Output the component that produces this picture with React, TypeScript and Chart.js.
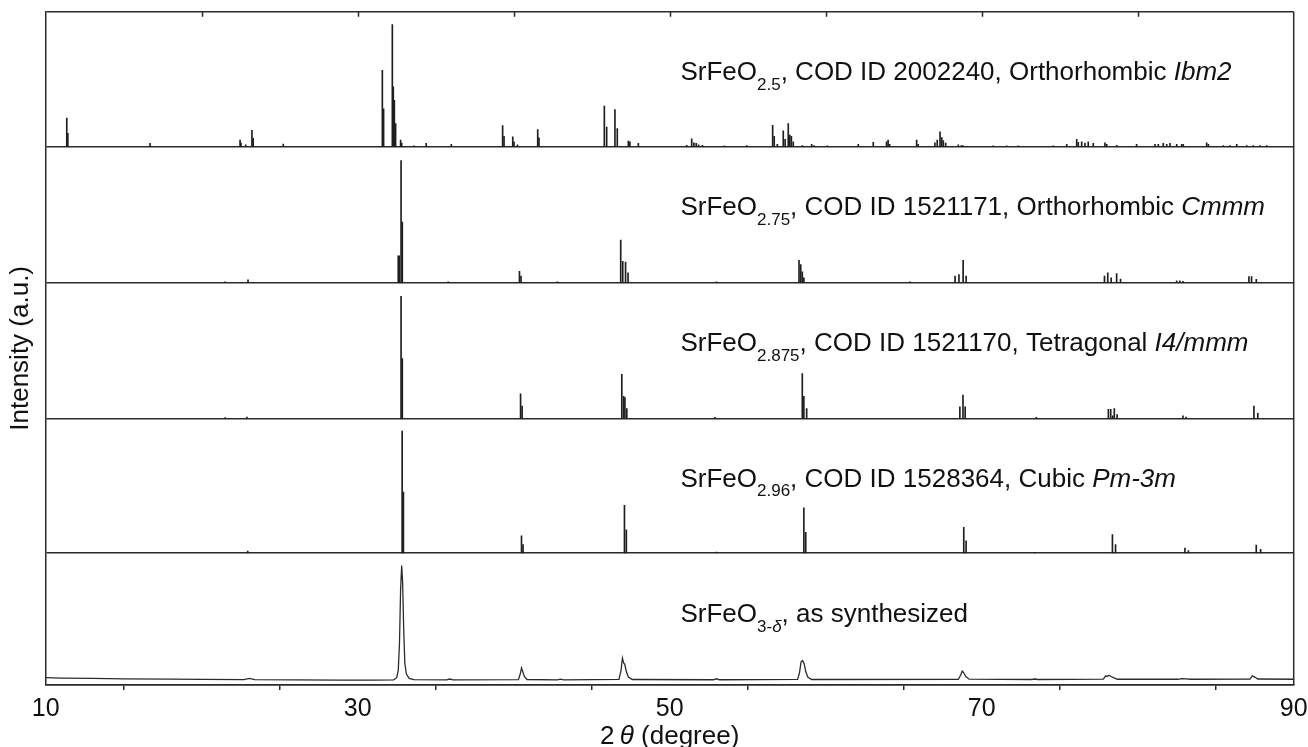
import React, { useEffect, useRef } from 'react';
import { Chart, registerables } from 'chart.js';

Chart.register(...registerables);

// ---------- data ----------
const X_MIN = 10;
const X_MAX = 90;
const X_TICK_LABELS = [10, 30, 50, 70, 90];

// SrFeO2.5, COD 2002240, Orthorhombic Ibm2 (relative intensity, max 100)
const SFO25_POS = [11.35, 11.42, 16.69, 22.46, 22.52, 22.82, 23.22, 23.3, 25.23, 31.58, 31.66, 32.22, 32.28, 32.35, 32.43, 32.75, 32.82, 33.6, 34.39, 36.0, 39.29, 39.38, 39.94, 40.02, 40.24, 41.54, 41.62, 45.81, 45.96, 46.49, 46.64, 47.35, 47.45, 47.99, 51.09, 51.41, 51.55, 51.7, 51.85, 52.1, 53.5, 54.94, 56.6, 56.7, 56.9, 57.28, 57.4, 57.6, 57.7, 57.8, 57.92, 58.5, 59.1, 59.25, 60.1, 62.09, 63.05, 63.9, 64.0, 64.1, 65.83, 65.93, 67.0, 67.15, 67.33, 67.44, 67.54, 67.69, 68.5, 68.7, 68.8, 70.74, 71.6, 72.35, 74.59, 75.45, 76.09, 76.19, 76.41, 76.62, 76.83, 77.15, 77.9, 78.01, 78.65, 79.93, 81.11, 81.32, 81.64, 81.86, 82.07, 82.5, 82.82, 82.92, 84.42, 84.53, 85.49, 85.92, 86.35, 86.99, 87.41, 87.84, 88.27];
const SFO25_INT = [23.5, 11, 2.7, 5.4, 3, 1.6, 13.5, 6.8, 2.2, 62.7, 31, 100, 49, 38, 19, 5.4, 3, 0.8, 2.7, 2, 17.3, 8.6, 8.1, 4, 1.6, 14, 7.3, 33.2, 16, 30.5, 14.9, 4.6, 4, 2.7, 1.2, 6.5, 3.2, 2.7, 1.6, 1.2, 0.8, 1, 17.6, 8.6, 2, 13, 6, 19, 9.5, 8.6, 4, 1, 2, 1, 0.8, 2, 3.5, 4, 5.4, 2, 5.4, 2, 3.2, 5.4, 12.2, 7.5, 5, 3, 1.6, 1, 1, 0.8, 0.8, 0.8, 0.8, 2, 6, 3.5, 4, 3, 4, 2.7, 3.2, 2, 1.2, 2, 2, 2, 2.7, 2, 2.7, 2, 2, 2, 3.2, 2, 1, 1, 2, 1, 1, 1, 1];

// SrFeO2.75, COD 1521171, Orthorhombic Cmmm
const SFO275_POS = [21.5, 22.97, 32.6, 32.66, 32.78, 32.86, 35.8, 40.37, 40.47, 42.8, 46.86, 46.99, 47.17, 47.33, 53.0, 58.29, 58.4, 58.5, 58.6, 65.4, 68.29, 68.54, 68.81, 69.0, 77.87, 78.08, 78.3, 78.65, 78.9, 82.5, 82.7, 82.9, 87.13, 87.3, 87.6];
const SFO275_INT = [0.8, 2.4, 22, 22, 100, 49.7, 0.8, 9.4, 5.4, 0.8, 35, 17.5, 17, 8, 0.8, 18.3, 14.8, 9, 4, 0.8, 5.4, 6.7, 18.3, 5.4, 5.4, 8, 4, 7.5, 3, 1.5, 1.5, 1.2, 5, 5, 2.7];

// SrFeO2.875, COD 1521170, Tetragonal I4/mmm
const SFO2875_POS = [21.5, 22.9, 32.78, 32.86, 40.44, 40.54, 46.93, 47.05, 47.13, 47.25, 52.9, 58.5, 58.6, 58.78, 68.6, 68.8, 68.94, 73.5, 78.12, 78.27, 78.4, 78.5, 78.68, 82.9, 83.1, 87.45, 87.7];
const SFO2875_INT = [0.6, 1, 100, 49, 20, 10, 36, 18, 17, 8, 0.8, 36.6, 18, 8, 9.5, 19, 9.5, 0.8, 7.3, 7.3, 2, 8, 3, 2, 1, 10, 4];

// SrFeO2.96, COD 1528364, Cubic Pm-3m
const SFO296_POS = [22.95, 32.85, 32.93, 40.5, 40.6, 47.1, 47.22, 53.0, 58.6, 58.72, 68.85, 69.0, 73.4, 78.38, 78.58, 83.03, 83.25, 87.6, 87.88];
const SFO296_INT = [1.5, 100, 50, 14, 7, 39, 19, 0.8, 37, 17, 21, 10, 0.6, 15, 7, 4, 2, 6.5, 3];

// SrFeO3-d as synthesized (measured pattern)
const MEAS_X = [10, 11, 13, 15, 18, 20, 22.7, 23.05, 23.4, 26, 29, 31, 32.3, 32.5, 32.6, 32.68, 32.75, 32.82, 32.88, 32.95, 33.02, 33.12, 33.3, 33.6, 35.7, 35.9, 36.1, 40.3, 40.42, 40.5, 40.58, 40.68, 40.85, 42.8, 43.0, 43.2, 46.75, 46.88, 46.97, 47.05, 47.12, 47.22, 47.35, 47.6, 52.8, 53.0, 53.2, 58.2, 58.32, 58.42, 58.52, 58.62, 58.72, 58.85, 59.1, 68.5, 68.65, 68.75, 68.85, 68.98, 69.2, 73.2, 73.4, 73.6, 77.8, 77.95, 78.05, 78.15, 78.3, 78.45, 78.7, 82.6, 82.8, 83.1, 83.4, 87.2, 87.35, 87.5, 87.7, 90];
const MEAS_I = [6.0, 5.7, 5.4, 5.1, 4.8, 4.6, 4.4, 5.4, 4.4, 4.2, 4.0, 4.0, 4.2, 6.0, 12, 35, 78, 98, 84, 45, 18, 9, 5.4, 4.4, 4.2, 4.9, 4.2, 4.4, 9, 14, 11, 7, 4.5, 4.2, 4.8, 4.2, 4.6, 12, 22, 18, 17, 11, 6.5, 4.5, 4.3, 5.1, 4.3, 4.6, 10, 19, 20, 17.5, 11, 6.5, 4.5, 4.6, 8, 11.5, 10, 7, 4.8, 4.5, 4.9, 4.5, 4.8, 7.5, 7, 8, 7, 6, 4.7, 4.7, 5.3, 5.1, 4.7, 4.9, 7.5, 6.5, 4.9, 4.7];

// ---------- layout / style ----------
const FONT = '"Liberation Sans", Arial, Helvetica, sans-serif';
const INK = '#111111';
const AXIS = '#2a2a2a';
const STICK = '#1e1e1e';
// panel edges in pixel-like units from the bottom of the plot
const PANEL_EDGES = [0, 132, 266.7, 402.3, 538.3, 673.3];
const PEAK_SCALE = 1.22; // 100 % -> 122 units
const LABEL_X = 50.69;
const LABEL_DROP = [69, 68.3, 68.3, 68.3, 68.3]; // baseline below panel top, bottom panel first
const MAIN_SIZE = 26;
const SUB_SIZE = 17;

type Seg = { t: string; sub?: boolean; it?: boolean };
const LABELS: Seg[][] = [
  [{ t: 'SrFeO' }, { t: '3-', sub: true }, { t: '\u03B4', sub: true, it: true }, { t: ', as synthesized' }],
  [{ t: 'SrFeO' }, { t: '2.96', sub: true }, { t: ', COD ID 1528364, Cubic ' }, { t: 'Pm-3m', it: true }],
  [{ t: 'SrFeO' }, { t: '2.875', sub: true }, { t: ', COD ID 1521170, Tetragonal ' }, { t: 'I4/mmm', it: true }],
  [{ t: 'SrFeO' }, { t: '2.75', sub: true }, { t: ', COD ID 1521171, Orthorhombic ' }, { t: 'Cmmm', it: true }],
  [{ t: 'SrFeO' }, { t: '2.5', sub: true }, { t: ', COD ID 2002240, Orthorhombic ' }, { t: 'Ibm2', it: true }],
];

function sticks(pos: number[], ints: number[], panel: number) {
  const base = PANEL_EDGES[panel];
  return pos.map((p, k) => ({ x: p, y: [base, base + ints[k] * PEAK_SCALE] }));
}

function drawRich(ctx: CanvasRenderingContext2D, segs: Seg[], x: number, y: number) {
  let cx = x;
  for (const s of segs) {
    const size = s.sub ? SUB_SIZE : MAIN_SIZE;
    ctx.font = `${s.it ? 'italic ' : ''}${size}px ${FONT}`;
    ctx.fillText(s.t, cx, s.sub ? y + 9.5 : y);
    cx += ctx.measureText(s.t).width;
  }
}

const decor = {
  id: 'decor',
  afterDraw(chart: any) {
    const { ctx, chartArea: a, scales } = chart;
    const xs = scales.x;
    const ys = scales.y;
    ctx.save();
    ctx.strokeStyle = AXIS;
    ctx.lineWidth = 1.5;
    ctx.beginPath();
    ctx.moveTo(a.right, a.top);
    ctx.lineTo(a.right, a.bottom);
    for (let v = X_MIN + 10; v < X_MAX; v += 10) {
      const px = Math.round(xs.getPixelForValue(v)) + 0.5;
      ctx.moveTo(px, a.top);
      ctx.lineTo(px, a.top + 5);
    }
    ctx.stroke();

    ctx.fillStyle = INK;
    ctx.textBaseline = 'alphabetic';
    ctx.textAlign = 'left';
    LABELS.forEach((segs, i) => {
      const yv = PANEL_EDGES[i + 1] - LABEL_DROP[i];
      drawRich(ctx, segs, xs.getPixelForValue(LABEL_X), ys.getPixelForValue(yv));
    });

    // x title: 2θ (degree)
    const xt: Seg[] = [{ t: '2' }, { t: '\u2009' }, { t: '\u03B8', it: true }, { t: ' (degree)' }];
    let w = 0;
    for (const s of xt) {
      ctx.font = `${s.it ? 'italic ' : ''}${MAIN_SIZE}px ${FONT}`;
      w += ctx.measureText(s.t).width;
    }
    drawRich(ctx, xt, (a.left + a.right) / 2 - w / 2, 744);

    // y title
    ctx.translate(21, (a.top + a.bottom) / 2);
    ctx.rotate(-Math.PI / 2);
    ctx.font = `${MAIN_SIZE}px ${FONT}`;
    ctx.textAlign = 'center';
    ctx.textBaseline = 'middle';
    ctx.fillText('Intensity (a.u.)', 0, 0);
    ctx.restore();
  },
};

export default function App() {
  const ref = useRef<HTMLCanvasElement | null>(null);
  useEffect(() => {
    if (!ref.current) return;
    const stickDs = (pos: number[], ints: number[], panel: number) => ({
      type: 'bar' as const,
      data: sticks(pos, ints, panel),
      backgroundColor: STICK,
      borderWidth: 0,
      barThickness: 1,
      grouped: false,
    });
    const chart = new Chart(ref.current, {
      type: 'bar',
      data: {
        datasets: [
          stickDs(SFO25_POS, SFO25_INT, 4),
          stickDs(SFO275_POS, SFO275_INT, 3),
          stickDs(SFO2875_POS, SFO2875_INT, 2),
          stickDs(SFO296_POS, SFO296_INT, 1),
          {
            type: 'line' as const,
            data: MEAS_X.map((x, k) => ({ x, y: PANEL_EDGES[0] + MEAS_I[k] * PEAK_SCALE })),
            borderColor: '#2b2b2b',
            borderWidth: 1.3,
            pointRadius: 0,
            tension: 0,
          } as any,
        ],
      },
      options: {
        responsive: false,
        animation: false,
        events: [],
        layout: { padding: { left: 45.7, right: 14.3, top: 11.7, bottom: 25 } },
        plugins: { legend: { display: false }, tooltip: { enabled: false } },
        scales: {
          x: {
            type: 'linear',
            min: X_MIN,
            max: X_MAX,
            offset: false,
            ticks: {
              stepSize: 10,
              autoSkip: false,
              maxRotation: 0,
              padding: 4,
              color: INK,
              font: { size: 25, family: FONT },
              callback: (v: any) => (X_TICK_LABELS.includes(Number(v)) ? String(v) : ''),
            },
            grid: { drawOnChartArea: false, drawTicks: true, tickLength: 5, color: AXIS, lineWidth: 1.5 },
            border: { display: true, color: AXIS, width: 1.5 },
            afterFit: (s: any) => {
              s.height = 37;
              s.paddingLeft = 0;
              s.paddingRight = 0;
            },
          },
          y: {
            type: 'linear',
            min: PANEL_EDGES[0],
            max: PANEL_EDGES[PANEL_EDGES.length - 1],
            afterBuildTicks: (s: any) => {
              s.ticks = PANEL_EDGES.map((v) => ({ value: v }));
            },
            ticks: { display: false },
            grid: { drawTicks: false, color: AXIS, lineWidth: 1.5 },
            border: { display: true, color: AXIS, width: 1.5 },
            afterFit: (s: any) => {
              s.width = 0;
              s.paddingTop = 0;
              s.paddingBottom = 0;
            },
          },
        },
      } as any,
      plugins: [decor],
    });
    return () => chart.destroy();
  }, []);
  return (
    <div style={{ position: 'absolute', left: 0, top: 0, width: 1308, height: 747, background: '#fff' }}>
      <canvas ref={ref} width={1308} height={747} />
    </div>
  );
}
